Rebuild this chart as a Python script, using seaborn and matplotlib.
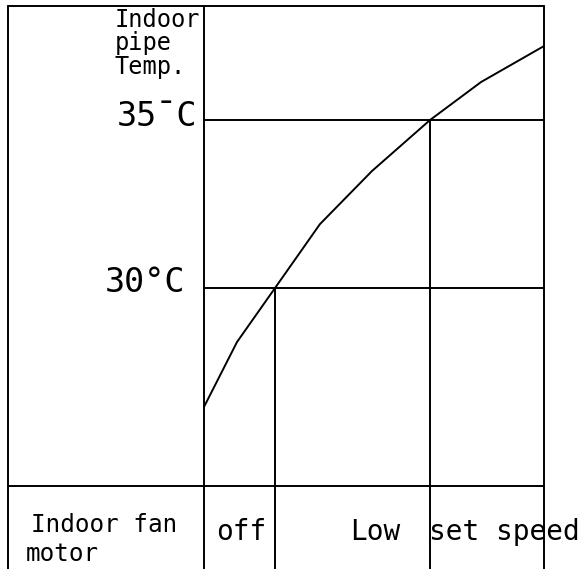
import matplotlib
matplotlib.use("Agg")
import matplotlib.pyplot as plt
import seaborn as sns
import pandas as pd

# Data: indoor pipe temperature curve (time in arbitrary units, temp in °C)
time_pts = [0.0, 0.97, 2.09, 3.41, 4.94, 6.65, 8.15, 10.0]
temp_pts = [26.46, 28.39, 30.0, 31.9, 33.48, 35.0, 36.13, 37.2]
thresholds = [30.0, 35.0]
threshold_labels = ["30°C", "35¯C"]
axis_label_lines = ["Indoor", "pipe", "Temp."]
fan_label_lines = ["Indoor fan", "motor"]
fan_states = ["off", "Low", "set speed"]

sns.set_theme(style="white")
plt.rcParams['font.family'] = ['DejaVu Sans Mono', 'DejaVu Sans']

fig = plt.figure(figsize=(5.8, 5.69), dpi=100)
ax = fig.add_axes([0, 0, 1, 1])
ax.set_xlim(-6.0, 11.06)
ax.set_ylim(21.637, 38.571)
ax.axis('off')

df = pd.DataFrame({"time": time_pts, "temp": temp_pts})
lw = 1.4
sns.lineplot(data=df, x="time", y="temp", ax=ax, color="black", lw=lw)

t0, t_end = time_pts[0], time_pts[-1]
left_edge = -5.76
top_T = 38.39
row_T = 24.11
bottom_T = 21.0

# frame
ax.plot([left_edge, t_end], [top_T, top_T], color="black", lw=lw)
ax.plot([left_edge, t_end], [row_T, row_T], color="black", lw=lw)
for xv in [left_edge, t0, t_end]:
    ax.plot([xv, xv], [bottom_T, top_T], color="black", lw=lw)

# threshold lines and crossing verticals
t_cross = [time_pts[temp_pts.index(th)] for th in thresholds]
for th, tc in zip(thresholds, t_cross):
    ax.plot([t0, t_end], [th, th], color="black", lw=lw)
    ax.plot([tc, tc], [bottom_T, th], color="black", lw=lw)

# threshold labels
ax.text(-0.56, 29.88, threshold_labels[0], fontsize=24, ha="right", va="baseline", color="black")
ax.text(-0.2, 34.82, threshold_labels[1], fontsize=24, ha="right", va="baseline", color="black")

# axis label
for s, yb in zip(axis_label_lines, [37.77, 37.08, 36.37]):
    ax.text(-2.62, yb, s, fontsize=17, ha="left", va="baseline", color="black")

# fan row labels
ax.text(-2.95, 22.738, fan_label_lines[0], fontsize=17.5, ha="center", va="baseline", color="black")
ax.text(-4.18, 21.875, fan_label_lines[1], fontsize=17.5, ha="center", va="baseline", color="black")
for s, xc in zip(fan_states, [1.09, 5.03, 8.85]):
    ax.text(xc, 22.5, s, fontsize=20, ha="center", va="baseline", color="black")

fig.savefig("out.png", dpi=100, facecolor="white")
